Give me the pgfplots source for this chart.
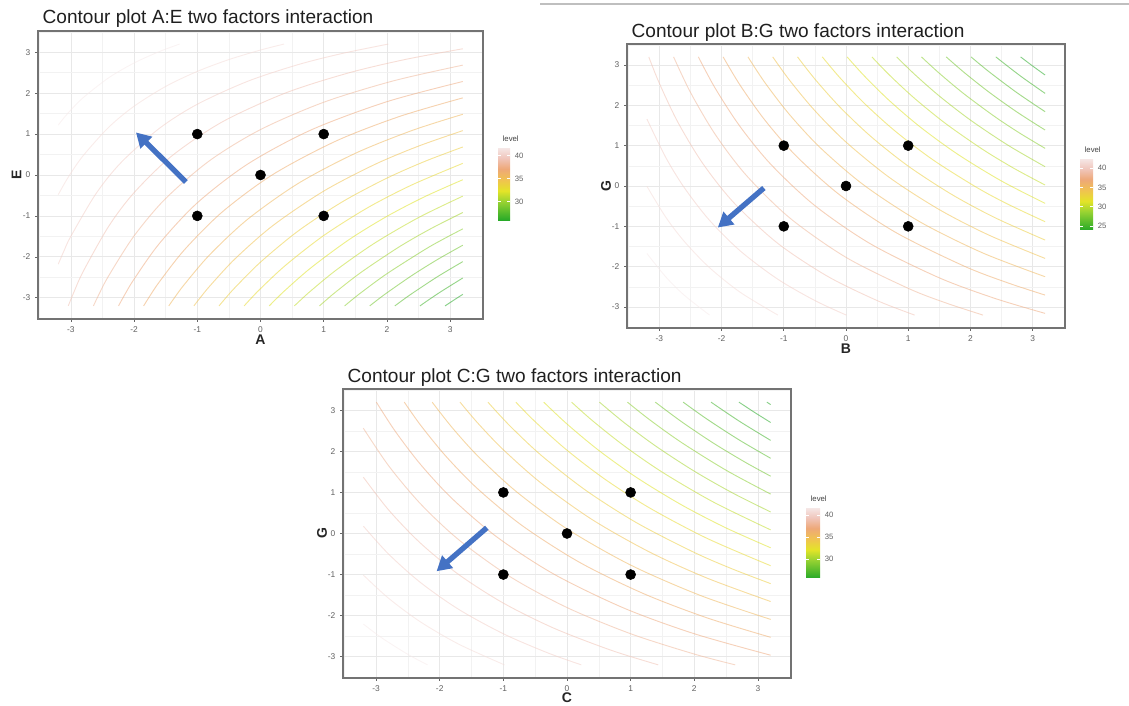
\documentclass[border=0pt]{standalone}
\usepackage{fontspec}
\setmainfont{Liberation Sans}
\usepackage{pgfplots}
\pgfplotsset{compat=1.18}
\usetikzlibrary{arrows.meta,calc}

\definecolor{cG}{RGB}{40,170,40}
\definecolor{cYG}{RGB}{150,210,50}
\definecolor{cY}{RGB}{228,228,40}
\definecolor{cGO}{RGB}{240,195,80}
\definecolor{cO}{RGB}{238,168,120}
\definecolor{cS}{RGB}{240,198,188}
\definecolor{cW}{RGB}{246,234,234}
\colorlet{L0}{cW}
\colorlet{L1}{cW!63!cS}
\colorlet{L2}{cW!26!cS}
\colorlet{L3}{cS!89!cO}
\colorlet{L4}{cS!52!cO}
\colorlet{L5}{cS!15!cO}
\colorlet{L6}{cO!78!cGO}
\colorlet{L7}{cO!41!cGO}
\colorlet{L8}{cO!4!cGO}
\colorlet{L9}{cGO!67!cY}
\colorlet{L10}{cGO!30!cY}
\colorlet{L11}{cY!93!cYG}
\colorlet{L12}{cY!56!cYG}
\colorlet{L13}{cY!19!cYG}
\colorlet{L14}{cYG!89!cG}
\colorlet{L15}{cYG!67!cG}
\colorlet{L16}{cYG!44!cG}
\colorlet{L17}{cYG!22!cG}
\colorlet{L18}{cG}
\definecolor{arrowblue}{RGB}{68,114,196}

\pgfplotsset{
  colormap={lvl}{rgb255(0cm)=(40,170,40); rgb255(5cm)=(150,210,50); rgb255(8cm)=(228,228,40); rgb255(11cm)=(240,195,80); rgb255(14cm)=(238,168,120); rgb255(17cm)=(240,198,188); rgb255(20cm)=(246,234,234)},
  /pgf/number format/assume math mode=true,
  contour/.style={
    scale only axis,
    xmin=-3.52, xmax=3.52, ymin=-3.52, ymax=3.52,
    xtick={-3,-2,-1,0,1,2,3}, ytick={-3,-2,-1,0,1,2,3},
    xticklabels={-3,-2,-1,0,1,2,3}, yticklabels={-3,-2,-1,0,1,2,3},
    minor xtick={-3.5,-2.5,-1.5,-0.5,0.5,1.5,2.5,3.5},
    minor ytick={-3.5,-2.5,-1.5,-0.5,0.5,1.5,2.5,3.5},
    tick pos=left,
    grid=both,
    major grid style={draw=black!9, line width=0.55pt},
    minor grid style={draw=black!5, line width=0.35pt},
    axis line style={draw=black!55, line width=0.9pt},
    tick align=outside,
    major tick length=2.2pt, minor tick length=0pt,
    major tick style={draw=black!60, line width=0.45pt},
    minor tick style={draw=none},
    tick label style={font=\fontsize{6.3}{7}\selectfont, text=black!62},
    every axis title/.style={at={(axis description cs:0,1)}, anchor=base west, font=\fontsize{14.3}{16}\selectfont, text=black!88},
    xlabel style={at={(axis description cs:0.5,0)}, anchor=base, font=\bfseries\fontsize{10.5}{12}\selectfont, text=black!85},
    ylabel style={anchor=center, font=\bfseries\fontsize{10.5}{12}\selectfont, text=black!85},
    colorbar,
    colormap name=lvl,
  },
  cbar/.style={
    anchor=west,
    xtick=\empty, minor xtick={}, minor ytick={},
    grid=none,
    axis line style={draw=none},
    major tick length=2pt,
    major tick style={draw=white, line width=0.6pt},
    tick align=inside,
    yticklabel pos=right,
    yticklabel style={font=\fontsize{5.8}{7}\selectfont, text=black!62},
    title=level,
    every axis title/.style={at={(axis description cs:0,1)}, anchor=base west, yshift=4pt, font=\fontsize{5.8}{7}\selectfont, text=black!75},
    xlabel={}, ylabel={},
  },
  cl/.style={draw=#1, line width=0.7pt, draw opacity=0.55, smooth, mark=none},
  dots/.style={only marks, mark=*, mark size=3.75pt, black},
  arr/.style={draw=arrowblue, line width=4pt, -{Triangle[length=11pt,width=12pt]}, mark=none},
}

\begin{document}
\begin{tikzpicture}
\path[use as bounding box] (0,0) rectangle (846.75pt,529.5pt);
\draw[black!25, line width=0.8pt] (405pt,526.5pt) -- (846.75pt,526.5pt);

% ---------------- Plot 1: A:E ----------------
\begin{axis}[contour, at={(28.5pt,290.25pt)}, anchor=south west,
  width=333.75pt, height=216pt,
  title={Contour plot A:E two factors interaction}, title style={yshift=5.8pt},
  xlabel={A}, ylabel={E}, xlabel style={yshift=-19.5pt},
  ylabel style={at={(axis description cs:-0.048,0.5)}},
  point meta min=26.1, point meta max=41.8,
  colorbar style={cbar, at={($(parent axis.east)+(2.75pt,-6.4pt)$)}, width=9pt, height=54.75pt, ytick={30,35,40}, yticklabels={30,35,40}}]
\addplot[cl=L0] coordinates {(-3.2,1.220) (-3.1,1.414) (-3.0,1.589) (-2.8,1.897) (-2.4,2.378) (-2.0,2.738) (-1.6,3.017) (-1.28,3.2)};
\addplot[cl=L1] coordinates {(-3.2,-0.481) (-3.1,-0.205) (-3.0,0.046) (-2.8,0.483) (-2.4,1.169) (-2.0,1.681) (-1.5,2.165) (-1.0,2.532) (-0.5,2.821) (0.0,3.054) (0.372,3.2)};
\addplot[cl=L2] coordinates {(-3.2,-2.181) (-3.1,-1.823) (-3.0,-1.498) (-2.6,-0.451) (-2.2,0.314) (-1.6,1.140) (-1.0,1.729) (-0.2,2.292) (0.6,2.700) (1.3,2.973) (2.022,3.2)};
\addplot[cl=L3] coordinates {(-3.041,-3.2) (-2.95,-2.856) (-2.8,-2.344) (-2.4,-1.250) (-2.0,-0.432) (-1.4,0.469) (-0.6,1.302) (0.4,2.007) (1.4,2.498) (2.3,2.827) (3.2,3.085)};
\addplot[cl=L4] coordinates {(-2.643,-3.2) (-2.55,-2.900) (-2.4,-2.460) (-2.0,-1.489) (-1.5,-0.574) (-0.8,0.356) (0.0,1.110) (1.0,1.778) (2.1,2.300) (3.2,2.685)};
\addplot[cl=L5] coordinates {(-2.246,-3.2) (-2.15,-2.932) (-2.0,-2.546) (-1.6,-1.675) (-1.0,-0.681) (-0.2,0.270) (0.8,1.101) (2.0,1.792) (3.2,2.285)};
\addplot[cl=L6] coordinates {(-1.849,-3.2) (-1.75,-2.957) (-1.6,-2.613) (-1.2,-1.823) (-0.6,-0.897) (0.2,0.016) (1.2,0.834) (2.2,1.431) (3.2,1.885)};
\addplot[cl=L7] coordinates {(-1.451,-3.2) (-1.35,-2.977) (-1.2,-2.667) (-0.8,-1.944) (-0.2,-1.078) (0.6,-0.203) (1.5,0.530) (2.4,1.089) (3.2,1.484)};
\addplot[cl=L8] coordinates {(-1.054,-3.2) (-0.95,-2.993) (-0.8,-2.711) (-0.4,-2.045) (0.2,-1.232) (1.0,-0.394) (1.8,0.252) (2.5,0.706) (3.2,1.084)};
\addplot[cl=L9] coordinates {(-0.656,-3.2) (-0.55,-3.006) (-0.4,-2.747) (0.0,-2.130) (0.6,-1.364) (1.3,-0.651) (2.0,-0.077) (2.6,0.333) (3.2,0.684)};
\addplot[cl=L10] coordinates {(-0.259,-3.2) (-0.15,-3.017) (0.0,-2.778) (0.4,-2.203) (1.0,-1.480) (1.7,-0.796) (2.4,-0.239) (3.2,0.284)};
\addplot[cl=L11] coordinates {(0.138,-3.2) (0.25,-3.026) (0.4,-2.804) (0.8,-2.266) (1.4,-1.581) (2.0,-1.011) (2.6,-0.529) (3.2,-0.116)};
\addplot[cl=L12] coordinates {(0.536,-3.2) (0.65,-3.035) (0.8,-2.827) (1.2,-2.321) (1.8,-1.671) (2.5,-1.041) (3.2,-0.517)};
\addplot[cl=L13] coordinates {(0.933,-3.2) (1.05,-3.042) (1.2,-2.847) (1.6,-2.370) (2.2,-1.751) (2.7,-1.308) (3.2,-0.917)};
\addplot[cl=L14] coordinates {(1.331,-3.2) (1.45,-3.048) (1.6,-2.865) (2.0,-2.413) (2.6,-1.823) (2.9,-1.561) (3.2,-1.317)};
\addplot[cl=L15] coordinates {(1.728,-3.2) (1.85,-3.053) (2.0,-2.880) (2.4,-2.452) (2.8,-2.066) (3.2,-1.717)};
\addplot[cl=L16] coordinates {(2.125,-3.2) (2.25,-3.058) (2.4,-2.894) (2.8,-2.486) (3.2,-2.118)};
\addplot[cl=L17] coordinates {(2.523,-3.2) (2.65,-3.063) (2.85,-2.856) (3.2,-2.518)};
\addplot[cl=L18] coordinates {(2.92,-3.2) (3.05,-3.067) (3.2,-2.918)};
\addplot[dots] coordinates {(-1,1) (1,1) (0,0) (-1,-1) (1,-1)};
\addplot[arr] coordinates {(-1.18,-0.17) (-1.97,1.04)};
\end{axis}

% ---------------- Plot 2: B:G ----------------
\begin{axis}[contour, at={(470.25pt,283.5pt)}, anchor=south west,
  width=328.5pt, height=213pt,
  title={Contour plot B:G two factors interaction}, title style={yshift=5pt},
  xlabel={B}, ylabel={G}, xlabel style={yshift=-19pt},
  ylabel style={at={(axis description cs:-0.048,0.5)}},
  point meta min=24, point meta max=42.6,
  colorbar style={cbar, at={($(parent axis.east)+(2.75pt,-6pt)$)}, width=9.75pt, height=54pt, ytick={25,30,35,40}, yticklabels={25,30,35,40}}]
\addplot[cl=L0] coordinates {(-3.2,-1.673) (-2.9,-2.247) (-2.6,-2.707) (-2.193,-3.2)};
\addplot[cl=L1] coordinates {(-3.2,-0.007) (-2.9,-0.766) (-2.6,-1.373) (-2.2,-2.016) (-1.7,-2.635) (-1.095,-3.2)};
\addplot[cl=L2] coordinates {(-3.2,1.660) (-2.9,0.716) (-2.6,-0.040) (-2.2,-0.840) (-1.7,-1.609) (-1.1,-2.307) (-0.5,-2.840) (0.004,-3.2)};
\addplot[cl=L3] coordinates {(-3.17,3.2) (-3.0,2.545) (-2.7,1.574) (-2.3,0.554) (-1.8,-0.419) (-1.1,-1.418) (-0.3,-2.236) (0.5,-2.840) (1.103,-3.2)};
\addplot[cl=L4] coordinates {(-2.771,3.2) (-2.5,2.321) (-2.1,1.274) (-1.6,0.260) (-0.9,-0.797) (0.0,-1.769) (1.0,-2.537) (1.6,-2.896) (2.202,-3.2)};
\addplot[cl=L5] coordinates {(-2.373,3.2) (-2.1,2.417) (-1.7,1.468) (-1.2,0.524) (-0.5,-0.487) (0.4,-1.440) (1.5,-2.277) (2.4,-2.790) (3.2,-3.158)};
\addplot[cl=L6] coordinates {(-1.975,3.2) (-1.7,2.493) (-1.3,1.625) (-0.8,0.743) (-0.1,-0.222) (0.8,-1.152) (1.9,-1.987) (2.6,-2.401) (3.2,-2.704)};
\addplot[cl=L7] coordinates {(-1.576,3.2) (-1.3,2.555) (-0.9,1.756) (-0.4,0.929) (0.3,0.007) (1.2,-0.899) (2.2,-1.661) (3.2,-2.249)};
\addplot[cl=L8] coordinates {(-1.178,3.2) (-0.9,2.607) (-0.5,1.866) (0.0,1.089) (0.7,0.208) (1.5,-0.586) (2.3,-1.220) (3.2,-1.795)};
\addplot[cl=L9] coordinates {(-0.779,3.2) (-0.5,2.650) (-0.1,1.960) (0.4,1.227) (1.0,0.493) (1.7,-0.210) (2.4,-0.790) (3.2,-1.340)};
\addplot[cl=L10] coordinates {(-0.381,3.2) (-0.1,2.687) (0.3,2.041) (0.8,1.348) (1.4,0.646) (2.1,-0.035) (2.6,-0.450) (3.2,-0.885)};
\addplot[cl=L11] coordinates {(0.018,3.2) (0.3,2.719) (0.7,2.112) (1.2,1.454) (1.8,0.782) (2.5,0.123) (3.2,-0.431)};
\addplot[cl=L12] coordinates {(0.416,3.2) (0.7,2.747) (1.1,2.175) (1.6,1.549) (2.2,0.904) (2.7,0.437) (3.2,0.024)};
\addplot[cl=L13] coordinates {(0.814,3.2) (1.1,2.772) (1.5,2.230) (2.0,1.634) (2.6,1.014) (3.2,0.478)};
\addplot[cl=L14] coordinates {(1.213,3.2) (1.5,2.794) (1.9,2.280) (2.4,1.710) (2.8,1.303) (3.2,0.933)};
\addplot[cl=L15] coordinates {(1.611,3.2) (1.9,2.813) (2.3,2.325) (2.75,1.831) (3.2,1.387)};
\addplot[cl=L16] coordinates {(2.01,3.2) (2.3,2.831) (2.75,2.310) (3.2,1.842)};
\addplot[cl=L17] coordinates {(2.408,3.2) (2.8,2.731) (3.2,2.296)};
\addplot[cl=L18] coordinates {(2.806,3.2) (3.0,2.974) (3.2,2.751)};
\addplot[dots] coordinates {(-1,1) (1,1) (0,0) (-1,-1) (1,-1)};
\addplot[arr] coordinates {(-1.32,-0.05) (-2.06,-1.03)};
\end{axis}

% ---------------- Plot 3: C:G ----------------
\begin{axis}[contour, at={(257.25pt,21pt)}, anchor=south west,
  width=336pt, height=216.75pt,
  title={Contour plot C:G two factors interaction}, title style={yshift=4.7pt},
  xlabel={C}, ylabel={G}, xlabel style={yshift=-18.75pt},
  ylabel style={at={(axis description cs:-0.047,0.5)}},
  point meta min=25.7, point meta max=41.8,
  colorbar style={cbar, at={($(parent axis.east)+(2.75pt,-6.75pt)$)}, width=10.5pt, height=53.25pt, ytick={30,35,40}, yticklabels={30,35,40}}]
\addplot[cl=L0] coordinates {(-3.2,-2.206) (-2.9,-2.554) (-2.5,-2.945) (-2.192,-3.2)};
\addplot[cl=L1] coordinates {(-3.2,-1.013) (-2.8,-1.583) (-2.3,-2.156) (-1.7,-2.697) (-0.983,-3.2)};
\addplot[cl=L2] coordinates {(-3.2,0.179) (-2.8,-0.507) (-2.3,-1.197) (-1.7,-1.850) (-1.0,-2.443) (-0.3,-2.910) (0.225,-3.2)};
\addplot[cl=L3] coordinates {(-3.2,1.371) (-2.8,0.568) (-2.3,-0.239) (-1.7,-1.002) (-1.0,-1.696) (-0.2,-2.311) (0.7,-2.848) (1.434,-3.2)};
\addplot[cl=L4] coordinates {(-3.2,2.564) (-2.8,1.644) (-2.3,0.720) (-1.7,-0.154) (-0.9,-1.047) (0.0,-1.804) (1.0,-2.442) (2.0,-2.937) (2.643,-3.2)};
\addplot[cl=L5] coordinates {(-2.996,3.2) (-2.7,2.492) (-2.3,1.679) (-1.8,0.842) (-1.1,-0.087) (-0.2,-0.995) (0.9,-1.821) (2.0,-2.442) (3.2,-2.965)};
\addplot[cl=L6] coordinates {(-2.557,3.2) (-2.3,2.637) (-1.9,1.877) (-1.4,1.083) (-0.7,0.187) (0.2,-0.705) (1.2,-1.463) (2.2,-2.055) (3.2,-2.529)};
\addplot[cl=L7] coordinates {(-2.119,3.2) (-1.8,2.571) (-1.4,1.885) (-0.8,1.025) (0.0,0.112) (1.0,-0.769) (2.1,-1.512) (3.2,-2.093)};
\addplot[cl=L8] coordinates {(-1.681,3.2) (-1.4,2.686) (-1.0,2.040) (-0.4,1.219) (0.4,0.334) (1.3,-0.454) (2.2,-1.086) (3.2,-1.657)};
\addplot[cl=L9] coordinates {(-1.243,3.2) (-0.9,2.626) (-0.4,1.897) (0.3,1.046) (1.1,0.256) (2.0,-0.462) (2.6,-0.865) (3.2,-1.221)};
\addplot[cl=L10] coordinates {(-0.804,3.2) (-0.5,2.722) (0.0,2.028) (0.6,1.318) (1.3,0.620) (2.2,-0.118) (3.2,-0.785)};
\addplot[cl=L11] coordinates {(-0.366,3.2) (0.0,2.667) (0.5,2.023) (1.1,1.358) (1.8,0.697) (2.5,0.135) (3.2,-0.348)};
\addplot[cl=L12] coordinates {(0.072,3.2) (0.4,2.748) (0.9,2.133) (1.5,1.491) (2.3,0.766) (3.2,0.088)};
\addplot[cl=L13] coordinates {(0.51,3.2) (0.9,2.698) (1.4,2.123) (2.0,1.518) (2.6,0.989) (3.2,0.524)};
\addplot[cl=L14] coordinates {(0.949,3.2) (1.3,2.769) (1.8,2.216) (2.5,1.541) (3.2,0.960)};
\addplot[cl=L15] coordinates {(1.387,3.2) (1.8,2.723) (2.3,2.202) (2.8,1.736) (3.2,1.396)};
\addplot[cl=L16] coordinates {(1.825,3.2) (2.2,2.786) (2.7,2.284) (3.2,1.832)};
\addplot[cl=L17] coordinates {(2.263,3.2) (2.7,2.743) (3.2,2.268)};
\addplot[cl=L18] coordinates {(2.702,3.2) (2.95,2.947) (3.2,2.704)};
\addplot[cl=L18] coordinates {(3.14,3.2) (3.2,3.14)};
\addplot[dots] coordinates {(-1,1) (1,1) (0,0) (-1,-1) (1,-1)};
\addplot[arr] coordinates {(-1.26,0.14) (-2.05,-0.92)};
\end{axis}
\end{tikzpicture}
\end{document}
